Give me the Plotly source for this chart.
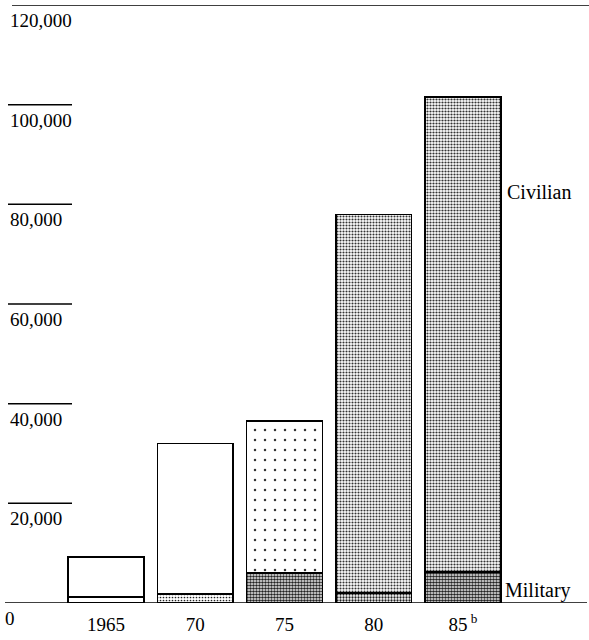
import plotly.graph_objects as go

# ---- data ----
year_labels = ["1965", "70", "75", "80", "85<sup> b</sup>"]
military = [1200, 1800, 6000, 2000, 6200]
total = [9200, 32000, 36500, 78000, 101500]
civilian = [t - m for t, m in zip(total, military)]
y_tick_values = [0, 20000, 40000, 60000, 80000, 100000, 120000]
y_tick_labels = ["0", "20,000", "40,000", "60,000", "80,000", "100,000", "120,000"]

# ---- styling ----
W, H = 589, 640
FONT = "Liberation Serif"
xpos = list(range(len(year_labels)))

civ_shape = ["", "", ".", ".", "."]
civ_solid = [0.1, 0.1, 0.05, 0.4, 0.42]
civ_size = [6, 6, 10, 3, 3]
mil_shape = ["", ".", ".", ".", "."]
mil_solid = [0.1, 0.25, 0.6, 0.45, 0.65]
mil_size = [6, 3, 3, 3, 3]

fig = go.Figure()
fig.add_trace(go.Bar(
    x=xpos, y=military, width=0.85, name="Military", hoverinfo="skip",
    marker=dict(color="white", line=dict(color="black", width=1.6),
                pattern=dict(shape=mil_shape, solidity=mil_solid, size=mil_size,
                             fgcolor="#222", bgcolor="white", fillmode="replace")),
))
fig.add_trace(go.Bar(
    x=xpos, y=civilian, width=0.85, name="Civilian", hoverinfo="skip",
    marker=dict(color="white", line=dict(color="black", width=1.6),
                pattern=dict(shape=civ_shape, solidity=civ_solid, size=civ_size,
                             fgcolor="#333", bgcolor="white", fillmode="replace")),
))

shapes = []
annotations = []
for v, lab in zip(y_tick_values, y_tick_labels):
    if v == 120000:
        x0, x1 = 12 / W, 1.0
    elif v == 0:
        x0, x1 = 5 / W, 587 / W
    else:
        x0, x1 = 8 / W, 72 / W
    shapes.append(dict(type="line", xref="paper", yref="y", x0=x0, x1=x1, y0=v, y1=v,
                       line=dict(color="black", width=1.5)))
    annotations.append(dict(xref="paper", yref="y", x=(3 if v == 0 else 8) / W, y=v,
                            xanchor="left", yanchor="top", yshift=-3, showarrow=False,
                            text=lab, font=dict(family=FONT, size=19, color="black")))

annotations.append(dict(xref="x", yref="y", x=xpos[-1] + 0.425, y=total[-1] - 19000,
                        xanchor="left", yanchor="middle", xshift=4, showarrow=False,
                        text="Civilian", font=dict(family=FONT, size=20, color="black")))
annotations.append(dict(xref="x", yref="y", x=xpos[-1] + 0.425, y=2600,
                        xanchor="left", yanchor="middle", xshift=2, showarrow=False,
                        text="Military", font=dict(family=FONT, size=20, color="black")))

fig.update_layout(
    width=W, height=H, barmode="stack", showlegend=False,
    margin=dict(l=0, r=0, t=5, b=37),
    paper_bgcolor="white", plot_bgcolor="white",
    xaxis=dict(range=[-1.188, 5.412], tickvals=xpos, ticktext=year_labels,
               showgrid=False, zeroline=False, showline=False, ticks="",
               ticklabelstandoff=8, automargin=False,
               tickfont=dict(family=FONT, size=19, color="black")),
    yaxis=dict(range=[0, 120000], showgrid=False, zeroline=False, showline=False,
               showticklabels=False, ticks="", automargin=False),
    shapes=shapes, annotations=annotations,
    font=dict(family=FONT, color="black"),
)

fig.write_html("out.html", config={"displayModeBar": False},
               post_script="document.body.style.margin='0';document.body.style.overflow='hidden';")
